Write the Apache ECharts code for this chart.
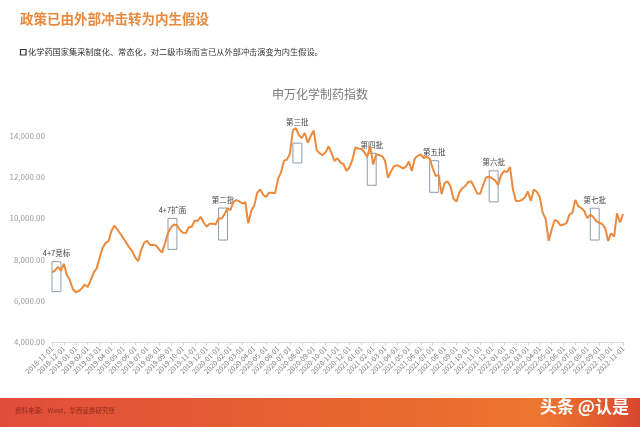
<!DOCTYPE html>
<html>
<head>
<meta charset="utf-8">
<script src="https://cdn.jsdelivr.net/npm/echarts@6/dist/echarts.min.js"></script>
<style>
html,body{margin:0;padding:0;background:#fff;}
#chart{width:640px;height:427px;}
</style>
</head>
<body>
<div id="chart"></div>
<script>
// Monthly tick labels
const monthLabels = [
 '2018-11-01','2018-12-01','2019-01-01','2019-02-01','2019-03-01','2019-04-01','2019-05-01','2019-06-01',
 '2019-07-01','2019-08-01','2019-09-01','2019-10-01','2019-11-01','2019-12-01','2020-01-01','2020-02-01',
 '2020-03-01','2020-04-01','2020-05-01','2020-06-01','2020-07-01','2020-08-01','2020-09-01','2020-10-01',
 '2020-11-01','2020-12-01','2021-01-01','2021-02-01','2021-03-01','2021-04-01','2021-05-01','2021-06-01',
 '2021-07-01','2021-08-01','2021-09-01','2021-10-01','2021-11-01','2021-12-01','2022-01-01','2022-02-01',
 '2022-03-01','2022-04-01','2022-05-01','2022-06-01','2022-07-01','2022-08-01','2022-09-01','2022-10-01',
 '2022-11-01'
];
const sampleDays = ['01','08','16','23'];

// 申万化学制药指数 (weekly samples)
const indexValues = [
 7380,7465,7650,7475, 7800,7250,7015,6580, 6425,6475,6615,6790, 6675,7000,7370,7575,
 8080,8565,8800,8895, 9395,9655,9450,9255, 9030,8820,8580,8410, 8100,7935,8475,8830,
 8910,8710,8720,8680, 8500,8340,8790,9295, 9560,9700,9670,9445, 9300,9290,9565,9595,
 9900,9870,10080,9800, 9595,9740,9735,9705, 10000,9990,10195,10485, 10400,10805,10880,10820,
 10720,10780,9760,10370, 10615,11235,11400,11145, 11040,11245,11235,11215, 11905,12225,12790,12840,
 13135,14275,14370,14035, 13890,14130,13660,13985, 14250,13305,13150,13065, 13195,13480,13160,12775,
 12905,12695,12630,12305, 12460,12825,13430,13385, 13355,13210,12955,13500, 12605,13090,13065,13010,
 12790,11960,12280,12515, 12580,12500,12425,12485, 12750,12290,12895,13035, 13090,12920,12980,12895,
 12435,12050,12105,11180, 11710,11795,11540,10945, 10810,11255,11460,11565, 11775,11785,11505,11200,
 11195,11615,11985,12010, 11930,11835,11615,12095, 12290,12240,12485,11395, 10840,10840,10885,11010,
 11300,10840,11395,11285, 11030,10280,9970,8905, 9435,9920,9850,9655, 9700,9770,10185,10280,
 10895,10575,10500,10355, 10015,10180,10065,9870, 9785,9725,9530,8905, 9275,9120,10245,9800,
 10210
];

// Procurement batch annotations
const batchNames = ['4+7竞标','4+7扩面','第二批','第三批','第四批','第五批','第六批','第七批'];
const batchStart = [0, 39, 56, 81, 106, 127, 147, 181];
const batchEnd   = [3, 42, 59, 84, 109, 130, 150, 184];
const batchLow   = [6450, 8500, 8950, 12680, 11600, 11260, 10800, 8950];
const batchHigh  = [7900, 10000, 10500, 13640, 13150, 12790, 12300, 10490];

const yTicks = [4000, 6000, 8000, 10000, 12000, 14000];

const categories = [];
monthLabels.forEach((m, i) => {
  if (i === monthLabels.length - 1) { categories.push(m); return; }
  sampleDays.forEach(d => categories.push(m.slice(0, 8) + d));
});

function fmt(v) {
  const s = String(Math.round(v)).replace(/\B(?=(\d{3})+(?!\d))/g, ',');
  return s + '.00';
}

const areaData = batchNames.map((n, i) => {
  const first = { name: n, xAxis: categories[batchStart[i]], yAxis: batchLow[i] };
  if (n === '第三批') first.label = { distance: 17 };
  return [first, { xAxis: categories[batchEnd[i]], yAxis: batchHigh[i] }];
});

const chart = echarts.init(document.getElementById('chart'), null, { renderer: 'canvas' });
chart.setOption({
  animation: false,
  backgroundColor: '#ffffff',
  textStyle: { fontFamily: '"Noto Sans CJK SC", "Noto Sans", sans-serif' },
  title: {
    text: '申万化学制药指数',
    left: 'center',
    top: 83,
    textStyle: { fontSize: 12, fontWeight: 'normal', color: '#7a7a7a', fontFamily: '"Noto Sans CJK SC", sans-serif' }
  },
  grid: { left: 52, right: 17, top: 94.4, bottom: 84.7, containLabel: false },
  xAxis: {
    type: 'category',
    data: categories,
    boundaryGap: false,
    axisLine: { show: true, lineStyle: { color: '#d9d9d9', width: 1 } },
    axisTick: {
      show: true, length: 3, inside: false,
      interval: (idx, val) => val.endsWith('-01'),
      lineStyle: { color: '#d4d4d4' }
    },
    axisLabel: {
      interval: (idx, val) => val.endsWith('-01'),
      rotate: 45,
      fontSize: 7,
      color: '#7a7a7a',
      margin: 5
    },
    splitLine: { show: false }
  },
  yAxis: {
    type: 'value',
    min: 4000,
    max: 16000,
    interval: 2000,
    axisLine: { show: false },
    axisTick: { show: false },
    splitLine: { show: false },
    axisLabel: {
      fontSize: 8,
      color: '#9a9a9a',
      margin: 7,
      formatter: v => (yTicks.indexOf(v) >= 0 ? fmt(v) : '')
    }
  },
  series: [{
    type: 'line',
    data: indexValues,
    symbol: 'none',
    smooth: false,
    lineStyle: { color: '#EB8A3D', width: 2 },
    itemStyle: { color: '#EB8A3D' },
    markArea: {
      silent: true,
      itemStyle: { color: 'rgba(0,0,0,0)', borderColor: '#8E9BAA', borderWidth: 1 },
      label: { show: true, position: 'top', distance: 4, fontSize: 7.5, color: '#444', fontFamily: '"Noto Sans CJK SC", sans-serif' },
      data: areaData
    }
  }],
  graphic: [
    {
      type: 'text', left: 20, top: 12,
      style: { text: '政策已由外部冲击转为内生假设', fontSize: 13.5, fontWeight: 'bold', fill: '#E8893D', fontFamily: '"Noto Sans CJK SC", sans-serif' }
    },
    {
      type: 'rect', shape: { x: 20.5, y: 49.5, width: 5.5, height: 5.5 },
      style: { fill: 'none', stroke: '#333', lineWidth: 1.2 }
    },
    {
      type: 'text', left: 28, top: 47.5,
      style: { text: '化学药国家集采制度化、常态化，对二级市场而言已从外部冲击演变为内生假设。', fontSize: 8.2, fill: '#333', fontFamily: '"Noto Sans CJK SC", sans-serif' }
    },
    {
      type: 'rect', shape: { x: 0, y: 398, width: 640, height: 29 }, z: -1,
      style: {
        fill: new echarts.graphic.LinearGradient(0, 0, 1, 0, [
          { offset: 0, color: '#E14D3B' },
          { offset: 0.55, color: '#E8652F' },
          { offset: 0.85, color: '#EC7630' },
          { offset: 1, color: '#D9472F' }
        ])
      }
    },
    {
      type: 'text', left: 15, top: 407,
      style: { text: '资料来源：Wind，华西证券研究所', fontSize: 6.5, fill: '#8A2A1C', fontFamily: '"Noto Sans CJK SC", sans-serif' }
    },
    {
      type: 'text', left: 540, top: 398,
      style: { text: '头条 @认是', fontSize: 17, fontWeight: 'bold', fill: '#ffffff', fontFamily: '"Noto Sans CJK SC", sans-serif' }
    }
  ]
});
</script>
</body>
</html>
